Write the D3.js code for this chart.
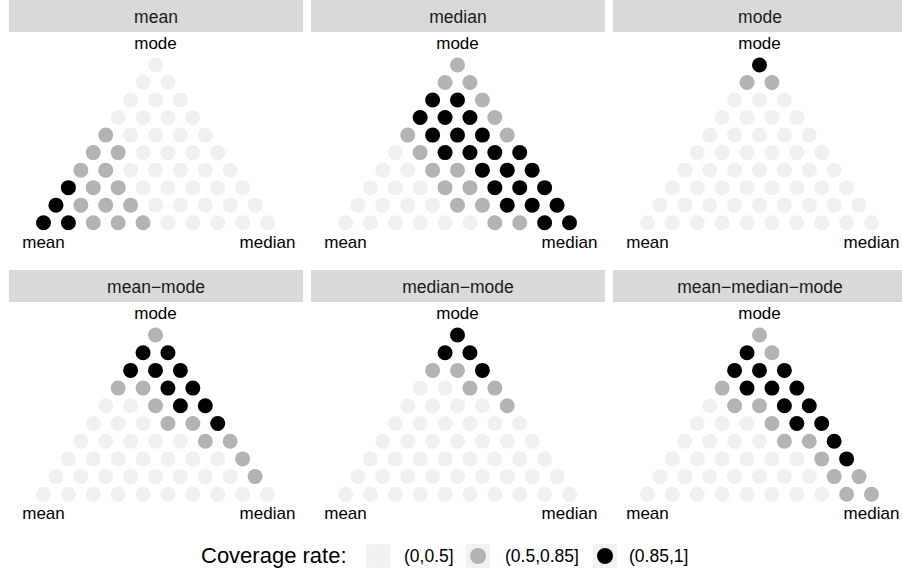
<!DOCTYPE html>
<html><head><meta charset="utf-8">
<script src="https://cdn.jsdelivr.net/npm/d3@7"></script>
<style>
body{margin:0;background:#fff}
svg{display:block}
text{font-family:"Liberation Sans",Arial,Helvetica,sans-serif}
</style>
</head><body>
<svg id="chart" width="902" height="571"></svg>
<script>
// ---- data ----
const facets = ["mean", "median", "mode", "mean\u2212mode", "median\u2212mode", "mean\u2212median\u2212mode"];
const cornerLabels = { left: "mean", right: "median", top: "mode" };
const coverageLevels = ["(0,0.5]", "(0.5,0.85]", "(0.85,1]"];
const legendTitle = "Coverage rate:";
// coverage class per grid point; rows from the mode corner (top) down to the mean–median edge,
// each row listed from the mean side (left) to the median side (right)
const covMean = [[0],[0,0],[0,0,0],[0,0,0,0],[1,0,0,0,0],[1,1,0,0,0,0],[1,1,0,0,0,0,0],[2,1,1,0,0,0,0,0],[2,1,1,1,0,0,0,0,0],[2,2,1,1,1,0,0,0,0,0]];
const covMedian = [[1],[1,1],[2,2,1],[2,2,2,1],[1,2,2,2,1],[0,1,2,2,2,2],[0,0,1,1,2,2,2],[0,0,0,1,1,2,2,2],[0,0,0,0,1,1,2,2,2],[0,0,0,0,0,0,1,1,2,2]];
const covMode = [[2],[1,1],[0,0,0],[0,0,0,0],[0,0,0,0,0],[0,0,0,0,0,0],[0,0,0,0,0,0,0],[0,0,0,0,0,0,0,0],[0,0,0,0,0,0,0,0,0],[0,0,0,0,0,0,0,0,0,0]];
const covMeanMode = [[1],[2,2],[2,2,2],[1,1,2,2],[0,0,1,2,2],[0,0,0,1,1,2],[0,0,0,0,0,1,1],[0,0,0,0,0,0,0,1],[0,0,0,0,0,0,0,0,1],[0,0,0,0,0,0,0,0,0,0]];
const covMedianMode = [[2],[2,2],[1,1,2],[0,0,1,1],[0,0,0,0,1],[0,0,0,0,0,0],[0,0,0,0,0,0,0],[0,0,0,0,0,0,0,0],[0,0,0,0,0,0,0,0,0],[0,0,0,0,0,0,0,0,0,0]];
const covAll = [[1],[2,1],[2,2,2],[1,2,2,2],[0,1,1,2,2],[0,0,0,1,2,2],[0,0,0,0,1,1,2],[0,0,0,0,0,0,1,2],[0,0,0,0,0,0,0,1,1],[0,0,0,0,0,0,0,0,1,1]];
const coverage = [covMean, covMedian, covMode, covMeanMode, covMedianMode, covAll];

// ---- styling / layout ----
const colors = ["#F0F0F0", "#B3B3B3", "#000000"];
const panelX = [9, 311, 613];
const panelW = 294;
const rowTop = [0, 270];
const stripH = 32;
const dotTop = [65, 335];
const dotBottom = [222.7, 494.3];
const dotR = 7.5;
const labelFont = 17;
const stripFont = 17.5;

const svg = d3.select("#chart");
const n = 9;

facets.forEach((name, i) => {
  const col = i % 3, row = Math.floor(i / 3);
  const px = panelX[col];
  const g = svg.append("g");
  // strip
  g.append("rect").attr("x", px).attr("y", rowTop[row]).attr("width", panelW).attr("height", stripH).attr("fill", "#D9D9D9");
  g.append("text").attr("x", px + panelW / 2).attr("y", rowTop[row] + 22.5)
    .attr("text-anchor", "middle").attr("font-size", stripFont).attr("fill", "#1A1A1A").text(name);

  const x = d3.scaleLinear().domain([0, 1]).range([px + 34.5, px + 258.5]);
  const y = d3.scaleLinear().domain([0, 1]).range([dotBottom[row], dotTop[row]]);

  const pts = [];
  coverage[i].forEach((vals, r) => {
    vals.forEach((c, k) => {
      const mode = (n - r) / n, median = k / n;
      pts.push({ mode, median, c });
    });
  });
  g.selectAll("circle").data(pts).join("circle")
    .attr("cx", d => x(d.median + d.mode / 2))
    .attr("cy", d => y(d.mode))
    .attr("r", dotR)
    .attr("fill", d => colors[d.c]);

  const lab = (t, xx, yy) => g.append("text").attr("x", xx).attr("y", yy)
    .attr("text-anchor", "middle").attr("font-size", labelFont).attr("fill", "#000").text(t);
  lab(cornerLabels.top, x(0.5), y(1) - 16.5);
  lab(cornerLabels.left, x(0), y(0) + 25);
  lab(cornerLabels.right, x(1), y(0) + 25);
});

// ---- legend ----
const lg = svg.append("g");
const ly = 556;
lg.append("text").attr("x", 201).attr("y", ly + 6.5).attr("font-size", 22).attr("fill", "#000").text(legendTitle);
const keyX = [366, 466, 593];
const labX = [404, 505, 629];
coverageLevels.forEach((lvl, i) => {
  lg.append("rect").attr("x", keyX[i]).attr("y", ly - 12).attr("width", 24).attr("height", 24).attr("fill", "#F2F2F2");
  lg.append("circle").attr("cx", keyX[i] + 12).attr("cy", ly).attr("r", 8).attr("fill", colors[i]);
  lg.append("text").attr("x", labX[i]).attr("y", ly + 6).attr("font-size", stripFont).attr("fill", "#000").text(lvl);
});
</script>
</body></html>
